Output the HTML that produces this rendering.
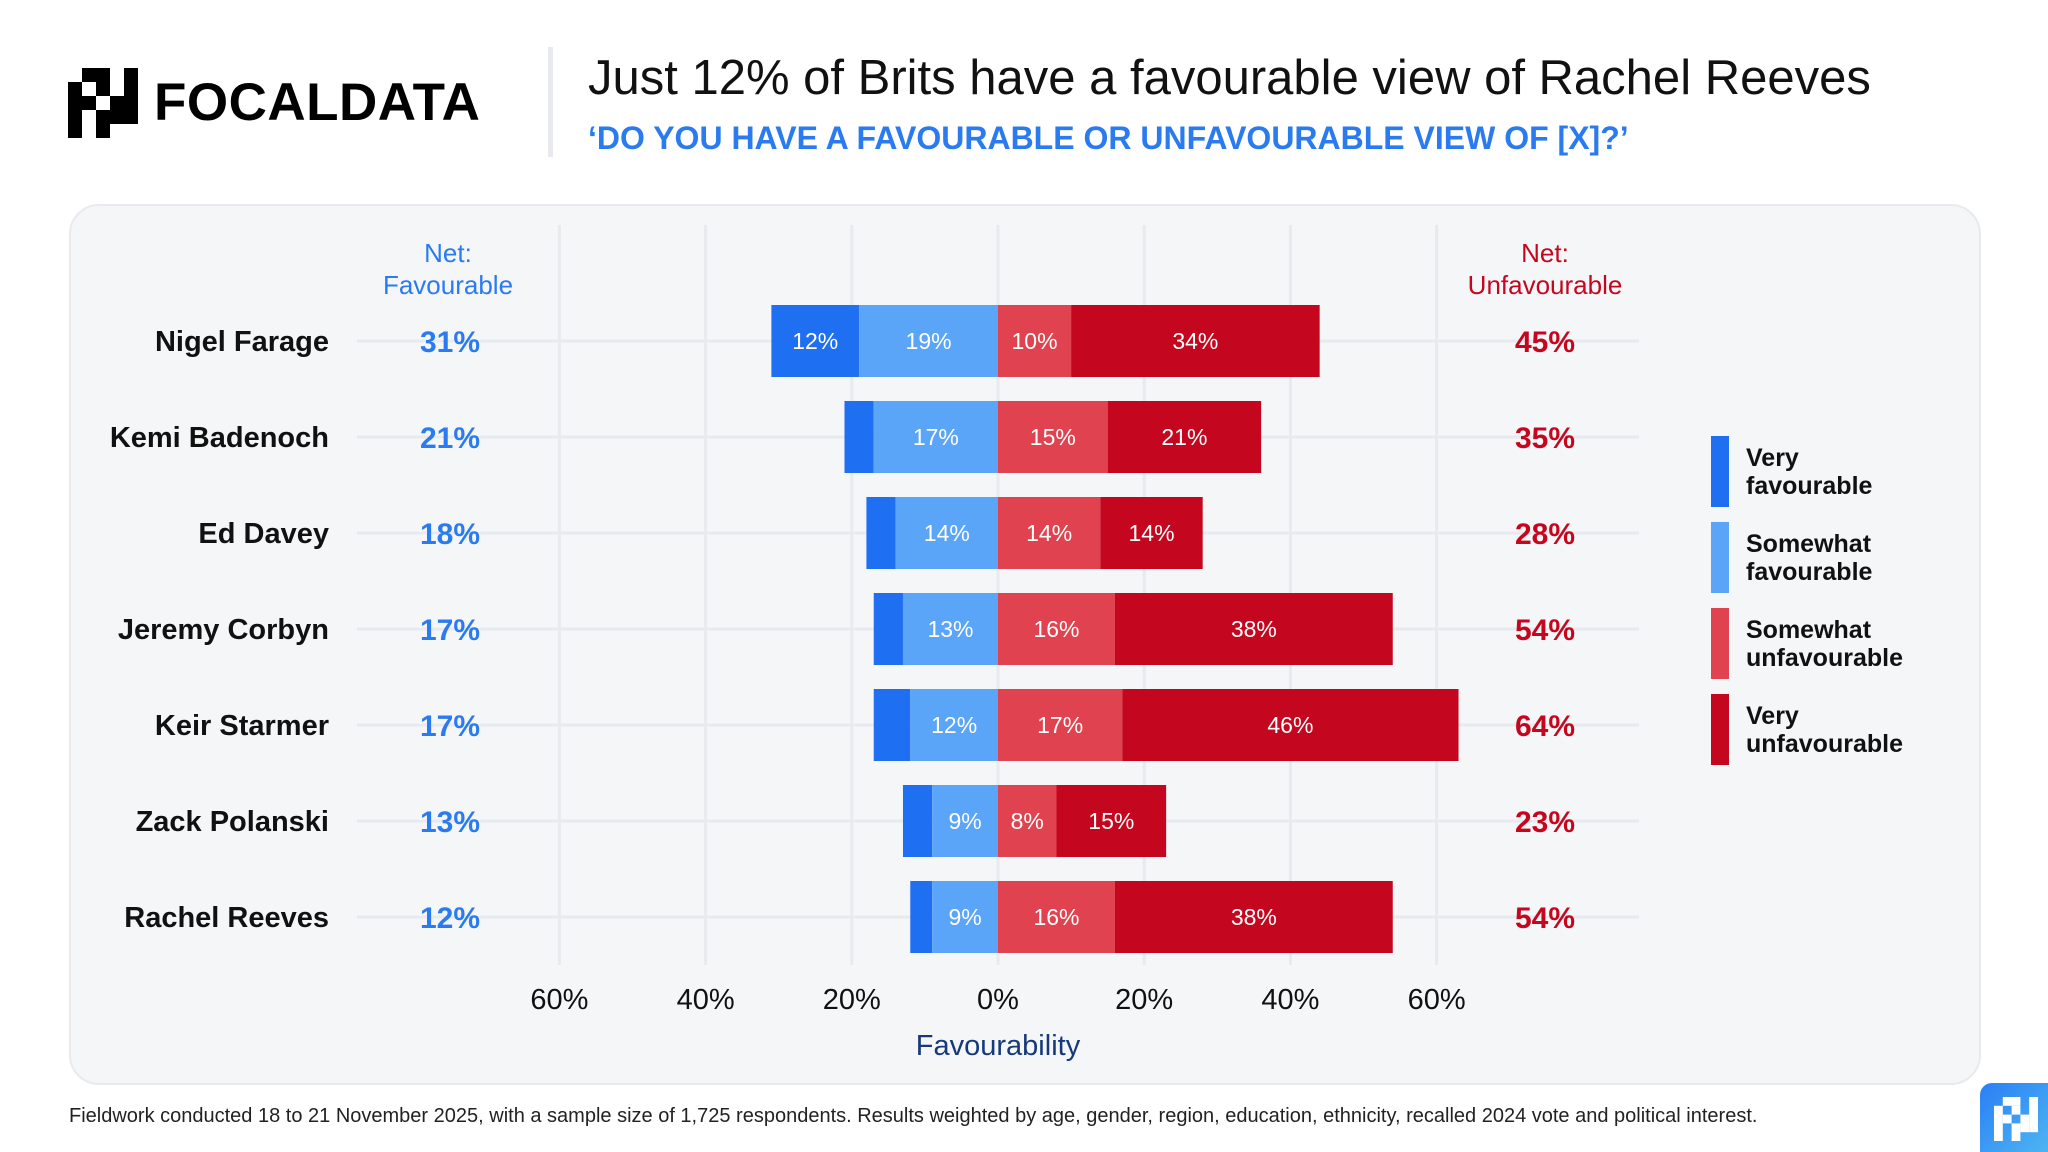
<!DOCTYPE html>
<html><head><meta charset="utf-8">
<style>
body{margin:0;width:2048px;height:1152px;background:#fff;font-family:"Liberation Sans",sans-serif;overflow:hidden;position:relative}
.abs{position:absolute}
</style></head><body>
<div class="abs" style="left:68px;top:68px;width:420px;height:70px">
<svg width="70" height="70" viewBox="0 0 5 5" style="position:absolute;left:0;top:0">
<g fill="#000">
<rect x="1" y="0" width="2" height="1"/><rect x="4" y="0" width="1" height="4"/>
<rect x="0" y="1" width="1" height="4"/><rect x="2" y="1" width="1" height="1"/>
<rect x="1" y="2" width="1" height="1"/><rect x="3" y="2" width="1" height="2"/>
<rect x="2" y="3" width="1" height="2"/>
</g></svg>
<div class="abs" style="left:86px;top:0;font-size:53px;font-weight:bold;line-height:70px;letter-spacing:0.5px">FOCALDATA</div>
</div>
<div class="abs" style="left:548px;top:47px;width:5px;height:110px;background:#e8e9ee"></div>
<div class="abs" style="left:588px;top:50px;font-size:49px;color:#111;line-height:56px">Just 12% of Brits have a favourable view of Rachel Reeves</div>
<div class="abs" style="left:588px;top:118px;font-size:32px;font-weight:bold;color:#2a7bf0;line-height:40px">‘DO YOU HAVE A FAVOURABLE OR UNFAVOURABLE VIEW OF [X]?’</div>
<div class="abs" style="left:69px;top:204px;width:1908px;height:877px;background:#f5f6f8;border:2px solid #e8eaee;border-radius:30px"></div>
<svg class="abs" style="left:0;top:0" width="2048" height="1152" id="chart"></svg>
<div class="abs" style="left:69px;top:1105px;font-size:20px;color:#222">Fieldwork conducted 18 to 21 November 2025, with a sample size of 1,725 respondents. Results weighted by age, gender, region, education, ethnicity, recalled 2024 vote and political interest.</div>
<div class="abs" style="left:1980px;top:1083px;width:68px;height:69px;border-top-left-radius:12px;background:linear-gradient(135deg,#2a7ff5,#4db5f2)">
<svg width="44" height="44" viewBox="0 0 5 5" style="position:absolute;left:14px;top:14px"><g fill="#fff">
<rect x="1" y="0" width="2" height="1"/><rect x="4" y="0" width="1" height="4"/>
<rect x="0" y="1" width="1" height="4"/><rect x="2" y="1" width="1" height="1"/>
<rect x="1" y="2" width="1" height="1"/><rect x="3" y="2" width="1" height="2"/>
<rect x="2" y="3" width="1" height="2"/></g></svg></div>
<script>
const names=["Nigel Farage","Kemi Badenoch","Ed Davey","Jeremy Corbyn","Keir Starmer","Zack Polanski","Rachel Reeves"];
const veryFav=[12,4,4,4,5,4,3];
const somewhatFav=[19,17,14,13,12,9,9];
const somewhatUnfav=[10,15,14,16,17,8,16];
const veryUnfav=[34,21,14,38,46,15,38];
const netFav=[31,21,18,17,17,13,12];
const netUnfav=[45,35,28,54,64,23,54];
const ticks=[-60,-40,-20,0,20,40,60];
const legendLabels=[["Very","favourable"],["Somewhat","favourable"],["Somewhat","unfavourable"],["Very","unfavourable"]];
const colors=["#1f6ff2","#5aa5f7","#e0434f","#c4071f"];
const svg=document.getElementById('chart');const NS="http://www.w3.org/2000/svg";
const x0=998,pxPer=7.31;const xs=v=>x0+v*pxPer;
const rowY=i=>341+i*96;const barH=72;
function mk(t,a,txt){const e=document.createElementNS(NS,t);for(const k in a)e.setAttribute(k,a[k]);if(txt!=null)e.textContent=txt;svg.appendChild(e);return e;}
ticks.forEach(t=>{const l=mk('line',{x1:xs(t),x2:xs(t),y1:225,y2:965,stroke:'#e9eaee','stroke-width':3});


const tx=mk('text',{x:xs(t),y:1009,'text-anchor':'middle','font-size':29,fill:'#111'},Math.abs(t)+'%');

});
names.forEach((n,i)=>{const y=rowY(i);
const g=mk('line',{x1:357,x2:1639,y1:y,y2:y,stroke:'#e9eaee','stroke-width':3});


const nt=mk('text',{x:329,y:y+10,'text-anchor':'end','font-size':29,'font-weight':'bold',fill:'#111'},n);


const segs=[[-veryFav[i]-somewhatFav[i],-somewhatFav[i],veryFav[i]],[-somewhatFav[i],0,somewhatFav[i]],[0,somewhatUnfav[i],somewhatUnfav[i]],[somewhatUnfav[i],somewhatUnfav[i]+veryUnfav[i],veryUnfav[i]]];
segs.forEach((s,k)=>{const r=mk('rect',{x:xs(s[0]),y:y-barH/2,width:xs(s[1])-xs(s[0]),height:barH,fill:colors[k]});


if(s[2]>=6){const lt=mk('text',{x:(xs(s[0])+xs(s[1]))/2,y:y+8,'text-anchor':'middle','font-size':23,fill:'#fff'},s[2]+'%');

}});
const nf=mk('text',{x:450,y:y+11,'text-anchor':'middle','font-size':30,'font-weight':'bold',fill:'#2a7bf0'},netFav[i]+'%');


const nu=mk('text',{x:1545,y:y+11,'text-anchor':'middle','font-size':30,'font-weight':'bold',fill:'#c4071f'},netUnfav[i]+'%');

});
[["Net:",262],["Favourable",294]].forEach(a=>{const t=mk('text',{x:448,y:a[1],'text-anchor':'middle','font-size':26,fill:'#2a7bf0'},a[0]);

});
[["Net:",262],["Unfavourable",294]].forEach(a=>{const t=mk('text',{x:1545,y:a[1],'text-anchor':'middle','font-size':26,fill:'#c4071f'},a[0]);

});
const xt=mk('text',{x:998,y:1055,'text-anchor':'middle','font-size':29,fill:'#16397a'},'Favourability');


legendLabels.forEach((lb,k)=>{const y=436+k*86;
const r=mk('rect',{x:1711,y:y,width:18,height:71,fill:colors[k]});


lb.forEach((s,j)=>{const t=mk('text',{x:1746,y:y+30+j*28,'font-size':25,'font-weight':'bold',fill:'#111'},s);

});});
</script>
</body></html>
